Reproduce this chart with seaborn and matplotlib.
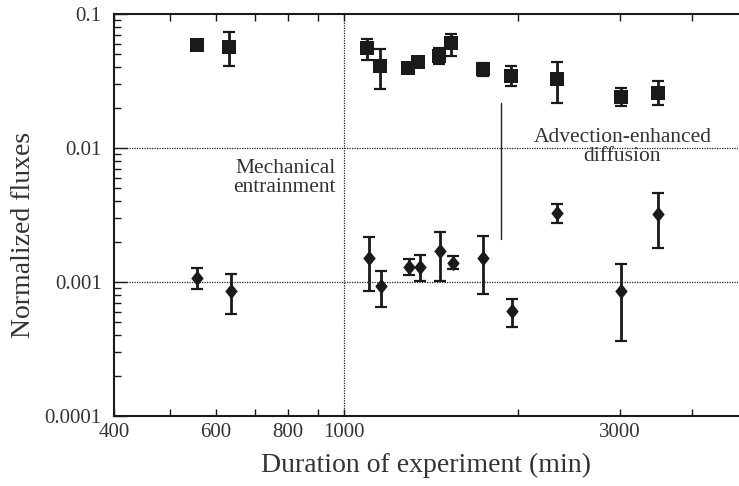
import numpy as np
import pandas as pd
import matplotlib
matplotlib.use("Agg")
import matplotlib.pyplot as plt
from matplotlib.ticker import FixedLocator, NullFormatter, LogLocator
import seaborn as sns

# Flux measurements vs. experiment duration (min)
sq_time = [556, 633, 1097, 1154, 1291, 1344, 1462, 1531, 1737, 1943, 2333, 3011, 3496]
sq_flux = [0.0587, 0.057, 0.0555, 0.0411, 0.0393, 0.0440, 0.0489, 0.0604,
           0.0389, 0.0347, 0.0327, 0.0242, 0.0259]
sq_low = [None, 0.041, 0.0454, 0.0274, None, None, 0.0421, 0.0489,
          0.0345, 0.0290, 0.0218, 0.0206, 0.0209]
sq_high = [None, 0.073, 0.065, 0.0545, None, None, 0.0554, 0.0709,
           0.0429, 0.0409, 0.0439, 0.0279, 0.0316]

dm_time = [556, 637, 1105, 1159, 1297, 1352, 1468, 1543, 1737, 1955, 2333, 3011, 3496]
dm_flux = [0.00108, 0.000857, 0.00150, 0.000933, 0.00130, 0.00130, 0.00171,
           0.00139, 0.00150, 0.000608, 0.00326, 0.000857, 0.00322]
dm_low = [0.000887, 0.000574, 0.000857, 0.000656, 0.00113, 0.00101, 0.00102,
          0.00125, 0.000807, 0.000464, 0.00277, 0.000362, 0.00180]
dm_high = [0.00128, 0.00114, 0.00216, 0.00120, 0.00148, 0.00158, 0.00237,
           0.00156, 0.00222, 0.000748, 0.00381, 0.00136, 0.00458]

x_tick_labels = [400, 600, 800, 1000, 3000]
y_tick_labels = ["0.0001", "0.001", "0.01", "0.1"]

sns.set_theme(style="white")
plt.rcParams["font.family"] = ["Liberation Serif", "DejaVu Serif"]
plt.rcParams["axes.linewidth"] = 1.5

ink = "#1a1a1a"
txt = "#333333"

fig = plt.figure(figsize=(7.39, 4.86), dpi=100)
W, H = 739, 486
ax = fig.add_axes([114 / W, 1 - 416 / H, (738 - 114) / W, (416 - 14) / H])
ax.set_xscale("log")
ax.set_yscale("log")
ax.set_xlim(400, 4800)
ax.set_ylim(1e-4, 0.1)

# reference lines
dot = (0, (1, 1))
for yv in (0.01, 0.001):
    ax.axhline(yv, color="#222222", lw=0.9, ls=dot, zorder=1)
ax.axvline(1000, color="#222222", lw=0.9, ls=dot, zorder=1)
ax.plot([1870, 1870], [0.0021, 0.0215], color="#222222", lw=1.0, zorder=1)

df = pd.concat([
    pd.DataFrame({"time": sq_time, "flux": sq_flux, "kind": "square"}),
    pd.DataFrame({"time": dm_time, "flux": dm_flux, "kind": "diamond"}),
])
square_marker = [(-1, -1), (1, -1), (1, 1), (-1, 1), (-1, -1)]
diamond_marker = [(0, 1), (0.8, 0), (0, -1), (-0.8, 0), (0, 1)]

def bars(times, vals, lows, highs):
    t, v, lo, hi = [], [], [], []
    for a, b, c, d in zip(times, vals, lows, highs):
        if c is None:
            continue
        t.append(a); v.append(b); lo.append(b - c); hi.append(d - b)
    ax.errorbar(t, v, yerr=[lo, hi], fmt="none", ecolor=ink, elinewidth=2.0,
                capsize=4.2, capthick=1.6, zorder=2)

bars(sq_time, sq_flux, sq_low, sq_high)
bars(dm_time, dm_flux, dm_low, dm_high)

sns.scatterplot(data=df[df.kind == "square"], x="time", y="flux", ax=ax,
                marker=square_marker, s=88, color=ink, linewidth=0, zorder=3,
                legend=False)
sns.scatterplot(data=df[df.kind == "diamond"], x="time", y="flux", ax=ax,
                marker=diamond_marker, s=125, color=ink, linewidth=0, zorder=3,
                legend=False)

# annotations
ax.text(968, 0.0060, "Mechanical\nentrainment", ha="right", va="center",
        multialignment="right", fontsize=15.5, color=txt, linespacing=1.02)
ax.text(3030, 0.0102, "Advection-enhanced\ndiffusion", ha="center", va="center",
        multialignment="center", fontsize=15.5, color=txt, linespacing=0.98)

# ticks
ax.spines["right"].set_visible(False)
for side in ("left", "bottom", "top"):
    ax.spines[side].set_color(ink)

x_ticks = [400, 500, 600, 700, 800, 900, 1000, 2000, 3000, 4000]
ax.xaxis.set_major_locator(FixedLocator(x_tick_labels))
ax.xaxis.set_minor_locator(FixedLocator([t for t in x_ticks if t not in x_tick_labels]))
ax.set_xticklabels([str(v) for v in x_tick_labels])
ax.xaxis.set_minor_formatter(NullFormatter())
ax.tick_params(axis="x", which="both", direction="in", length=5, width=1.0,
               top=True, bottom=True, color=ink, labelsize=15, labelcolor=txt, pad=5)

ax.yaxis.set_major_locator(FixedLocator([1e-4, 1e-3, 1e-2, 1e-1]))
ax.set_yticklabels(y_tick_labels)
ax.yaxis.set_minor_locator(LogLocator(base=10, subs=np.arange(2, 10)))
ax.yaxis.set_minor_formatter(NullFormatter())
ax.tick_params(axis="y", which="major", direction="in", length=9, width=1.0,
               left=True, right=False, color=ink, labelsize=15, labelcolor=txt, pad=9)
ax.tick_params(axis="y", which="minor", direction="in", length=5, width=1.0,
               left=True, right=False, color=ink)

ax.set_xlabel("Duration of experiment (min)", fontsize=20, color=txt, labelpad=8)
ax.set_ylabel("Normalized fluxes", fontsize=20, color=txt)
ax.yaxis.set_label_coords(-0.125, 0.45)

fig.savefig("out.png", dpi=100)
